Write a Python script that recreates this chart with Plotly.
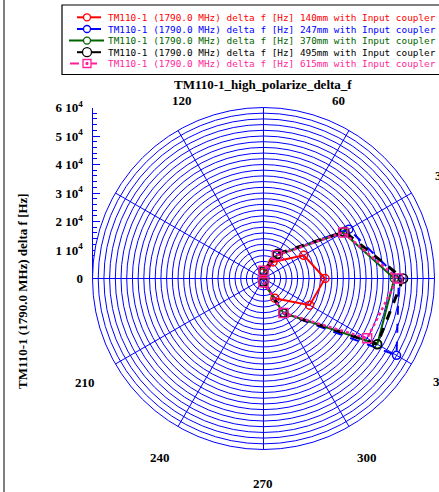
import plotly.graph_objects as go

W, H = 439, 492

# ---- data ----
angles = [270, 300, 330, 0, 30, 60, 90]
r_140 = [1500, 8000, 18700, 21600, 16300, 6700, 2000]
r_247 = [1300, 14000, 53900, 47500, 34600, 9600, 2700]
r_370 = [1300, 14000, 46100, 45900, 32300, 9500, 2700]
r_495 = [1300, 14000, 46100, 49000, 32800, 10000, 2700]
r_615 = [1300, 14000, 42000, 47100, 32300, 9400, 2700]

series_names = ["140mm", "247mm", "370mm", "495mm", "615mm"]
series_vals = [r_140, r_247, r_370, r_495, r_615]
colors = ["#ff0000", "#0000ff", "#006400", "#000000", "#ff1f9a"]
dashes = ["solid", "dash", "solid", "dash", "dot"]
widths = [2, 2, 2, 3, 2.5]
symbols = ["circle-open", "circle-open", "circle-open", "circle-open", "square-open"]
msizes = [8, 8, 8, 9, 9]

ang_gridvals = [0, 30, 60, 90, 120, 150, 180, 210, 240, 270, 300, 330]
ang_labels = ["30", "60", "120", "210", "240", "270", "300", "330"]

rad_tickvals = [0, 10000, 20000, 30000, 40000, 50000, 60000]
rad_ticktext = ["0", "1 10<sup>4</sup>", "2 10<sup>4</sup>", "3 10<sup>4</sup>",
                "4 10<sup>4</sup>", "5 10<sup>4</sup>", "6 10<sup>4</sup>"]

legend_prefix = "TM110-1 (1790.0 MHz) delta f [Hz] "
legend_suffix = " with Input coupler"

def px(x):
    return x / W

def py(y):
    return 1 - y / H

GRID = "#0000ff"
cx, cy, R = 263.5, 278.5, 171.0

fig = go.Figure()
for name, vals, c, d, w, s, ms in zip(series_names, series_vals, colors, dashes, widths, symbols, msizes):
    fig.add_trace(go.Scatterpolar(
        r=vals, theta=angles, mode="lines+markers",
        line=dict(color=c, width=w, dash=d),
        marker=dict(symbol=s, size=ms, color=c, line=dict(color=c, width=1.5)),
        name=name, showlegend=False, hoverinfo="skip"))

# empty cartesian trace to carry the left radial scale
fig.add_trace(go.Scatter(x=[], y=[], xaxis="x", yaxis="y", showlegend=False))

serif = dict(family="Liberation Serif", size=13, color="black", weight="bold")

fig.update_layout(
    width=W, height=H,
    margin=dict(l=0, r=0, t=0, b=0, autoexpand=False),
    paper_bgcolor="white", plot_bgcolor="rgba(0,0,0,0)",
    showlegend=False,
    polar=dict(
        domain=dict(x=[px(cx - R), px(cx + R)], y=[py(cy + R), py(cy - R)]),
        bgcolor="white",
        radialaxis=dict(range=[0, 60000], tick0=0, dtick=2000, showticklabels=False,
                        ticks="", showline=False, gridcolor=GRID, gridwidth=1, angle=0),
        angularaxis=dict(direction="counterclockwise", rotation=0,
                         tickmode="array", tickvals=ang_gridvals,
                         showticklabels=False, ticks="",
                         showgrid=True, gridcolor=GRID, gridwidth=1,
                         showline=True, linecolor=GRID, linewidth=1),
    ),
    xaxis=dict(domain=[px(cx - R), px(cx - R) + 0.05], range=[0, 1], visible=False),
    yaxis=dict(domain=[py(cy), py(cy - R)], range=[0, 60000], anchor="x",
               tickmode="array", tickvals=rad_tickvals, ticktext=rad_ticktext,
               ticks="inside", ticklen=7, tickcolor=GRID, tickwidth=1,
               minor=dict(tickmode="linear", tick0=0, dtick=2000, ticks="inside",
                          ticklen=4, tickcolor=GRID, showgrid=False),
               showline=True, linecolor=GRID, linewidth=1, showgrid=False, zeroline=False,
               tickfont=serif, ticklabelstandoff=6),
)

anns = []
anns.append(dict(text="TM110-1_high_polarize_delta_f", x=px(263), y=py(84), xref="paper", yref="paper",
                 showarrow=False, font=serif, xanchor="center", yanchor="middle"))
anns.append(dict(text="TM110-1 (1790.0 MHz) delta f [Hz]", x=px(22), y=py(291), xref="paper", yref="paper",
                 showarrow=False, font=serif, textangle=-90, xanchor="center", yanchor="middle"))

# angular labels (positions as in the reference)
label_pos = [(441, 176), (338, 100), (182, 100), (85, 382), (160, 457), (263, 483), (367, 457), (443, 381)]
for lab, (lx, ly) in zip(ang_labels, label_pos):
    anns.append(dict(text=lab, x=px(lx), y=py(ly), xref="paper", yref="paper", showarrow=False,
                     font=serif, xanchor="center", yanchor="middle"))

shapes = []
# outer frame line on the left
shapes.append(dict(type="line", xref="paper", yref="paper", x0=px(4), x1=px(4), y0=0, y1=1,
                   line=dict(color="black", width=1)))
# legend box
shapes.append(dict(type="rect", xref="paper", yref="paper", x0=px(62), x1=px(460), y0=py(74.5), y1=py(5),
                   line=dict(color="black", width=1.2), fillcolor="white", layer="above"))

row_y = [17.3, 29.0, 40.6, 52.2, 63.5]
line_x = [(77, 101), (77, 101), (69, 104), (77, 101), (70, 104)]
leg_dash = ["solid", "solid", "solid", "solid", "dash"]
for i, (name, c) in enumerate(zip(series_names, colors)):
    yy = row_y[i]
    x0, x1 = line_x[i]
    shapes.append(dict(type="line", xref="paper", yref="paper", x0=px(x0), x1=px(x1), y0=py(yy), y1=py(yy),
                       line=dict(color=c, width=2, dash=leg_dash[i]), layer="above"))
    rr = 4.5 if i == 3 else 3.5
    if symbols[i] == "square-open":
        shapes.append(dict(type="rect", xref="paper", yref="paper", x0=px(87 - 4), x1=px(87 + 4),
                           y0=py(yy + 4), y1=py(yy - 4), line=dict(color=c, width=1.3),
                           fillcolor="white", layer="above"))
        shapes.append(dict(type="rect", xref="paper", yref="paper", x0=px(86), x1=px(88),
                           y0=py(yy + 1), y1=py(yy - 1), line=dict(color=c, width=1),
                           fillcolor=c, layer="above"))
    else:
        shapes.append(dict(type="circle", xref="paper", yref="paper", x0=px(87 - rr), x1=px(87 + rr),
                           y0=py(yy + rr), y1=py(yy - rr), line=dict(color=c, width=1.3),
                           fillcolor="white", layer="above"))
    anns.append(dict(text=legend_prefix + name + legend_suffix, x=px(106), y=py(yy),
                     xref="paper", yref="paper", showarrow=False, xanchor="left", yanchor="middle",
                     font=dict(family="DejaVu Sans Mono", size=9.4, color=c)))

fig.update_layout(annotations=anns, shapes=shapes)
fig.write_html("out.html")
